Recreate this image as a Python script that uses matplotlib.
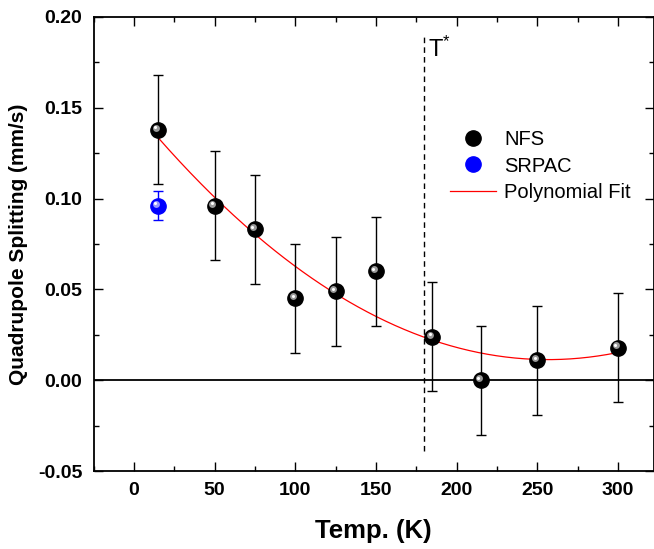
import numpy as np
import matplotlib
matplotlib.use("Agg")
import matplotlib.pyplot as plt
from matplotlib import transforms
from matplotlib.lines import Line2D

plt.rcParams['font.family'] = ['Liberation Sans', 'DejaVu Sans']
plt.rcParams['mathtext.fontset'] = 'custom'
plt.rcParams['mathtext.rm'] = 'Liberation Sans'
plt.rcParams['mathtext.it'] = 'Liberation Sans'

# ---- data ----
nfs_temp = [15, 50, 75, 100, 125, 150, 185, 215, 250, 300]
nfs_qs = [0.138, 0.096, 0.083, 0.045, 0.049, 0.060, 0.024, 0.000, 0.011, 0.018]
nfs_err = [0.03, 0.03, 0.03, 0.03, 0.03, 0.03, 0.03, 0.03, 0.03, 0.03]
srpac_temp = [15]
srpac_qs = [0.096]
srpac_err = [0.008]
t_star = 180
xticks = [0, 50, 100, 150, 200, 250, 300]
yticks = [-0.05, 0.00, 0.05, 0.10, 0.15, 0.20]

# polynomial (quadratic) fit of the NFS data
coef = np.polyfit(nfs_temp, nfs_qs, 2)
fit_x = np.linspace(min(nfs_temp), max(nfs_temp), 300)
fit_y = np.polyval(coef, fit_x)

fig = plt.figure(figsize=(6.54, 5.49), dpi=100)
ax = fig.add_axes([93.5/654, 1-471/549, (653.5-93.5)/654, (471-17)/549])

ax.set_xlim(-25, 322)
ax.set_ylim(-0.05, 0.20)

ax.axhline(0, color='black', lw=1.3, zorder=1)
ax.plot([t_star, t_star], [-0.039, 0.19], color='black', lw=1.0,
        dashes=(4, 3), zorder=1)
ax.plot(fit_x, fit_y, color='red', lw=0.9, zorder=2)

ax.errorbar(nfs_temp, nfs_qs, yerr=nfs_err, fmt='none', ecolor='black',
            elinewidth=1.0, capsize=3.3, capthick=1.0, zorder=3)
ax.errorbar(srpac_temp, srpac_qs, yerr=srpac_err, fmt='none', ecolor='blue',
            elinewidth=1.0, capsize=3.3, capthick=1.0, zorder=3)


def sphere(x, y, base, mid, ms=11):
    ax.plot(x, y, 'o', ms=ms, color=base, mec=base, zorder=4)
    off1 = transforms.offset_copy(ax.transData, fig=fig, x=-1.5, y=1.5, units='points')
    ax.plot(x, y, 'o', ms=ms*0.45, color=mid, mew=0, transform=off1, zorder=5)
    off2 = transforms.offset_copy(ax.transData, fig=fig, x=-1.9, y=1.9, units='points')
    ax.plot(x, y, 'o', ms=ms*0.2, color='white', mew=0, transform=off2, zorder=6)


sphere(nfs_temp, nfs_qs, 'black', '#9a9a9a')
sphere(srpac_temp, srpac_qs, '#0000ff', '#9999ff')

ax.text(t_star + 2.5, 0.178, r'T$^{*}$', fontsize=17, ha='left', va='baseline')

ax.set_xticks(xticks)
ax.set_xticks(np.arange(-25, 325, 25), minor=True)
ax.set_yticks(yticks)
ax.set_yticks(np.arange(-0.05, 0.2001, 0.025), minor=True)
ax.set_xticklabels([str(v) for v in xticks])
ax.set_yticklabels([f'{v:.2f}' for v in yticks])
ax.tick_params(which='both', direction='in', top=True, right=True, width=1.0,
               labelsize=14, pad=8)
ax.tick_params(which='major', length=6.5)
ax.tick_params(which='minor', length=3.5)
for lab in ax.get_xticklabels() + ax.get_yticklabels():
    lab.set_fontweight('bold')
for s in ax.spines.values():
    s.set_linewidth(1.3)

ax.set_xlabel('Temp. (K)', fontsize=18.5, fontweight='bold', labelpad=14)
ax.set_ylabel('Quadrupole Splitting (mm/s)', fontsize=15, fontweight='bold', labelpad=7)

# legend
h1 = Line2D([], [], ls='none', marker='o', ms=11, color='black')
h2 = Line2D([], [], ls='none', marker='o', ms=11, color='#0000ff')
h3 = Line2D([], [], color='red', lw=0.9)
leg = ax.legend([h1, h2, h3], ['NFS', 'SRPAC', 'Polynomial Fit'], frameon=False,
                fontsize=14.5, loc='upper left', bbox_to_anchor=(0.604, 0.79),
                handlelength=2.3, handletextpad=0.4, labelspacing=0.35)

fig.savefig('out.png', dpi=100)
